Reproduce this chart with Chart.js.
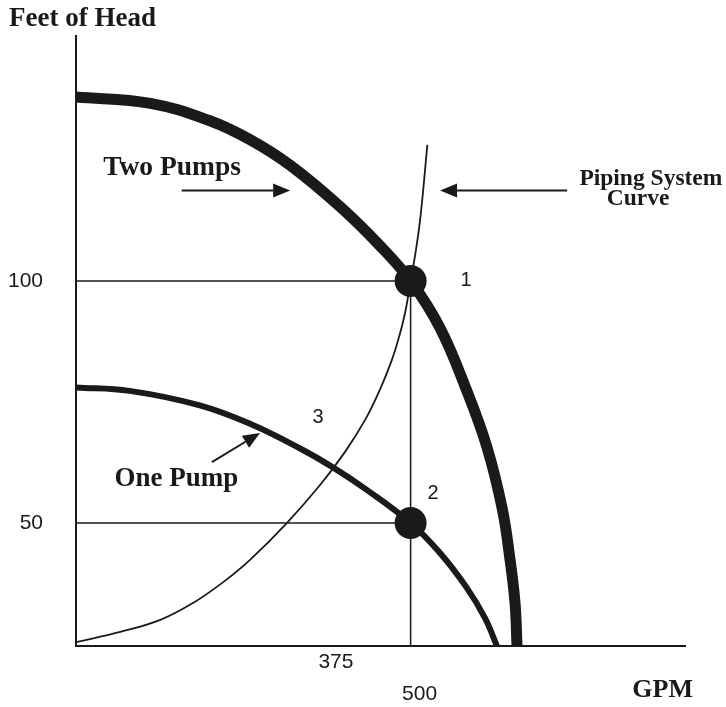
<!DOCTYPE html>
<html>
<head>
<meta charset="utf-8">
<title>Pumps in Parallel</title>
<script src="https://cdn.jsdelivr.net/npm/chart.js@4.4.1/dist/chart.umd.min.js"></script>
<style>
  html, body { margin: 0; padding: 0; background: #fff; }
  #wrap { width: 726px; height: 707px; position: relative; }
</style>
</head>
<body>
<div id="wrap"><canvas id="pumpChart"></canvas></div>
<script>
// head (ft) vs flow (GPM) for each curve
const twoPumpGpm  = [0, 111, 200, 260, 320, 395, 454, 500, 544, 584, 614, 637, 648, 656, 659];
const twoPumpHead = [138, 136.7, 133.1, 129.2, 123.9, 115.3, 107.3, 100, 90.3, 77.3, 65.7, 52.9, 43, 33.5, 24.6];

const onePumpGpm  = [0, 80, 185, 260, 335, 384, 435, 500, 544, 584, 611, 629];
const onePumpHead = [78, 77.3, 74.3, 70.5, 65.4, 61.5, 56.8, 50, 43.8, 36.6, 30.4, 24.6];

const systemGpm  = [0, 66, 126, 175, 220, 260, 315, 365, 402, 432, 454, 472, 483, 492, 500, 508, 515, 525];
const systemHead = [25.4, 27.5, 30, 33.5, 37.8, 42.4, 50, 57.9, 64.7, 71.3, 77.5, 83.7, 88.6, 93.6, 100, 106.4, 113.6, 128.1];

// operating points 1 and 2
const opGpm  = [500, 500];
const opHead = [100, 50];

const xTicks = [375, 500];
const yTicks = [50, 100];
const xMin = 0, xMax = 910;
const yMin = 24.6, yMax = 150.6;

const toXY = (xs, ys) => xs.map((v, i) => ({ x: v, y: ys[i] }));

const INK = '#1a1a1a';
const serif = (size) => `bold ${size}px "Liberation Serif", "DejaVu Serif", serif`;
const sans = (size) => `${size}px "Liberation Sans", Arial, sans-serif`;

// text and arrows placed in data space
const notes = [
  { text: 'Two Pumps', x: 143.5, y: 121.9, font: serif(27.5) },
  { text: 'One Pump', x: 150, y: 57.7, font: serif(27) },
  { text: 'Piping System', x: 859, y: 119.8, font: serif(23.5) },
  { text: 'Curve', x: 840, y: 115.6, font: serif(23.5) },
  { text: '1', x: 583, y: 100.2, font: sans(20), middle: true },
  { text: '2', x: 533.5, y: 56.2, font: sans(20), middle: true },
  { text: '3', x: 361.6, y: 71.7, font: sans(20), middle: true }
];
const arrows = [
  { from: [158, 118.7], to: [320, 118.7] },
  { from: [734, 118.7], to: [544, 118.7] },
  { from: [203, 62.6], to: [275, 68.6] }
];

function drawArrow(ctx, x1, y1, x2, y2) {
  const ang = Math.atan2(y2 - y1, x2 - x1);
  const len = 17, half = 7;
  const bx = x2 - len * Math.cos(ang), by = y2 - len * Math.sin(ang);
  ctx.beginPath();
  ctx.moveTo(x1, y1);
  ctx.lineTo(bx, by);
  ctx.stroke();
  ctx.beginPath();
  ctx.moveTo(x2, y2);
  ctx.lineTo(bx + half * Math.sin(ang), by - half * Math.cos(ang));
  ctx.lineTo(bx - half * Math.sin(ang), by + half * Math.cos(ang));
  ctx.closePath();
  ctx.fill();
}

const notesPlugin = {
  id: 'pumpNotes',
  afterDraw(chart) {
    const { ctx, chartArea, scales: { x, y } } = chart;
    ctx.save();
    ctx.fillStyle = INK;
    ctx.strokeStyle = INK;
    ctx.lineWidth = 2;

    notes.forEach(n => {
      ctx.font = n.font;
      ctx.textAlign = 'center';
      ctx.textBaseline = n.middle ? 'middle' : 'alphabetic';
      ctx.fillText(n.text, x.getPixelForValue(n.x), y.getPixelForValue(n.y));
    });

    arrows.forEach(a => {
      drawArrow(ctx,
        x.getPixelForValue(a.from[0]), y.getPixelForValue(a.from[1]),
        x.getPixelForValue(a.to[0]), y.getPixelForValue(a.to[1]));
    });

    // axis titles
    ctx.font = serif(27);
    ctx.textAlign = 'left';
    ctx.textBaseline = 'alphabetic';
    ctx.fillText('Feet of Head', 9, chartArea.top - 10);
    ctx.font = serif(26);
    ctx.textAlign = 'right';
    ctx.fillText('GPM', chartArea.right + 8, chartArea.bottom + 51);
    ctx.restore();
  }
};

const refLine = (pts) => ({
  data: pts,
  borderColor: INK,
  borderWidth: 1.5,
  pointRadius: 0,
  tension: 0,
  order: 5
});

const curve = (label, xs, ys, width, order) => ({
  label,
  data: toXY(xs, ys),
  borderColor: INK,
  borderWidth: width,
  pointRadius: 0,
  tension: 0.4,
  order
});

new Chart(document.getElementById('pumpChart'), {
  type: 'line',
  data: {
    datasets: [
      {
        label: 'Operating points',
        data: toXY(opGpm, opHead),
        showLine: false,
        pointRadius: 16,
        pointBackgroundColor: INK,
        pointBorderWidth: 0,
        order: 0
      },
      curve('Two Pumps', twoPumpGpm, twoPumpHead, 11, 1),
      curve('One Pump', onePumpGpm, onePumpHead, 6, 2),
      curve('Piping System Curve', systemGpm, systemHead, 1.8, 3),
      refLine([{ x: xMin, y: opHead[0] }, { x: opGpm[0], y: opHead[0] }]),
      refLine([{ x: xMin, y: opHead[1] }, { x: opGpm[1], y: opHead[1] }]),
      refLine([{ x: opGpm[0], y: yMin }, { x: opGpm[0], y: opHead[0] }])
    ]
  },
  options: {
    responsive: true,
    maintainAspectRatio: false,
    animation: false,
    events: [],
    layout: { padding: { top: 36, right: 41, left: 0, bottom: 0 } },
    plugins: {
      legend: { display: false },
      tooltip: { enabled: false },
      title: { display: false }
    },
    scales: {
      x: {
        type: 'linear',
        min: xMin,
        max: xMax,
        afterBuildTicks: (s) => { s.ticks = xTicks.map(v => ({ value: v })); },
        afterFit: (s) => { s.height = 61; s.paddingLeft = 0; s.paddingRight = 0; },
        grid: { display: false, drawTicks: false },
        border: { display: true, color: INK, width: 2 },
        ticks: {
          padding: 0,
          labelOffset: 9,
          maxRotation: 0,
          autoSkip: false,
          color: INK,
          font: { family: '"Liberation Sans", Arial, sans-serif', size: 21, lineHeight: 1.52 },
          // 500 sits on a second row under 375
          callback: (v) => v === 500 ? ['', '500'] : String(v)
        }
      },
      y: {
        type: 'linear',
        min: yMin,
        max: yMax,
        afterBuildTicks: (s) => { s.ticks = yTicks.map(v => ({ value: v })); },
        afterFit: (s) => { s.width = 76; s.paddingTop = 0; s.paddingBottom = 0; },
        grid: { display: false, drawTicks: false },
        border: { display: true, color: INK, width: 2 },
        ticks: {
          padding: 33,
          autoSkip: false,
          color: INK,
          font: { family: '"Liberation Sans", Arial, sans-serif', size: 21 },
          callback: (v) => String(v)
        }
      }
    }
  },
  plugins: [notesPlugin]
});
</script>
</body>
</html>
